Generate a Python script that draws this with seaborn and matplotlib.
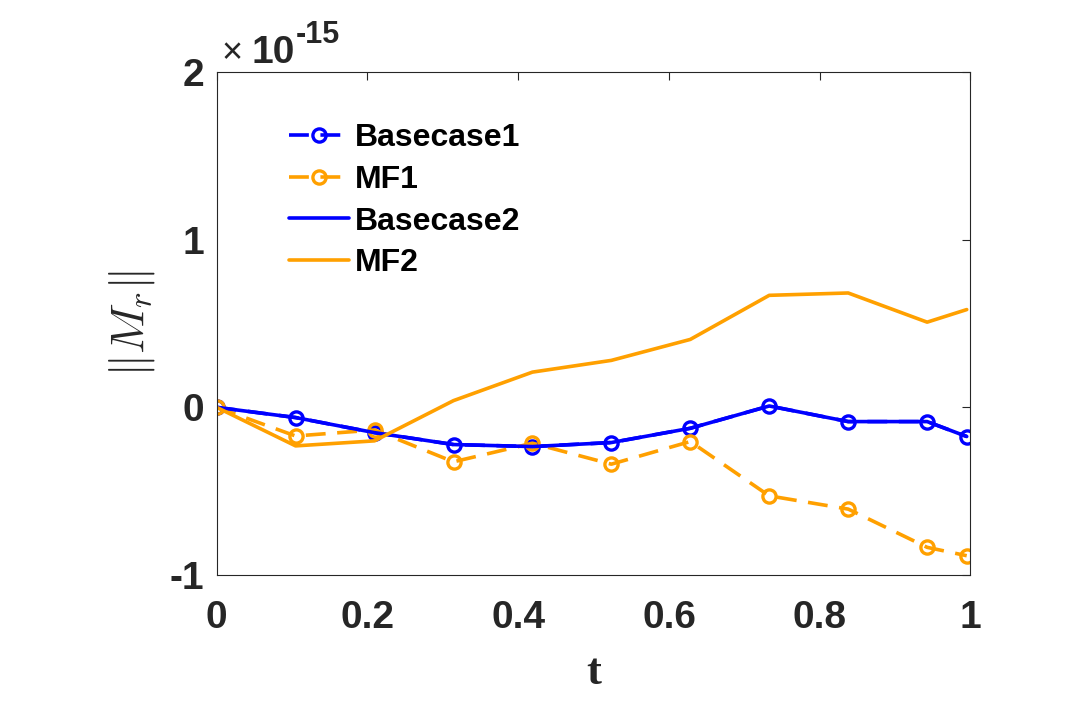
import numpy as np
import pandas as pd
import matplotlib
matplotlib.use("Agg")
import matplotlib.pyplot as plt
import seaborn as sns
from matplotlib.ticker import FixedLocator

# ---- data (values in units of 1e-15) ----
t = [0.0, 0.1047, 0.2094, 0.3142, 0.4189, 0.5236, 0.6283, 0.7330, 0.8378, 0.9425, 0.995]
basecase1 = [0.0, -0.061, -0.151, -0.222, -0.234, -0.210, -0.125, 0.008, -0.085, -0.085, -0.174]
mf1 = [0.0, -0.171, -0.135, -0.325, -0.214, -0.339, -0.204, -0.528, -0.607, -0.835, -0.885]
basecase2 = [0.0, -0.061, -0.151, -0.222, -0.234, -0.210, -0.125, 0.008, -0.085, -0.085, -0.174]
mf2 = [0.0, -0.230, -0.200, 0.040, 0.210, 0.280, 0.405, 0.668, 0.682, 0.508, 0.583]
labels = ["Basecase1", "MF1", "Basecase2", "MF2"]
scale = 1e-15
xticks = [0, 0.2, 0.4, 0.6, 0.8, 1]
xticklabels = ["0", "0.2", "0.4", "0.6", "0.8", "1"]
yticks = [-1, 0, 1, 2]
yticklabels = ["-1", "0", "1", "2"]

sns.set_theme(style="white")
plt.rcParams["font.family"] = ["Liberation Sans", "DejaVu Sans"]
plt.rcParams["mathtext.fontset"] = "cm"

BLUE = "#0000FF"
ORANGE = "#FFA000"
TXT = "#262626"

fig = plt.figure(figsize=(10.8, 7.2), dpi=100)
ax = fig.add_axes([0.2006, 0.2014, 0.698, 0.6986])

series = [basecase1, mf1, basecase2, mf2]
colors = [BLUE, ORANGE, BLUE, ORANGE]
styles = [(0, (5.5, 3.2)), (0, (5.5, 3.2)), "-", "-"]
markers = ["o", "o", None, None]

for lab, vals, c, ls, mk in zip(labels, series, colors, styles, markers):
    df = pd.DataFrame({"t": t, "v": np.array(vals) * scale})
    kw = dict(linewidth=2.6, color=c, linestyle=ls, label=lab)
    if mk:
        kw.update(marker=mk, markersize=9.5, markerfacecolor="none",
                  markeredgecolor=c, markeredgewidth=2.4)
    sns.lineplot(data=df, x="t", y="v", ax=ax, estimator=None, sort=False, **kw)

ax.set_xlim(0, 1)
ax.set_ylim(-1 * scale, 2 * scale)
ax.xaxis.set_major_locator(FixedLocator(xticks))
ax.set_xticklabels(xticklabels)
ax.yaxis.set_major_locator(FixedLocator([v * scale for v in yticks]))
ax.set_yticklabels(yticklabels)

for sp in ax.spines.values():
    sp.set_visible(True)
    sp.set_color(TXT)
    sp.set_linewidth(0.8)

ax.tick_params(axis="both", which="major", direction="in", length=6, width=0.8,
               color=TXT, top=True, right=True, labelsize=28, labelcolor=TXT)
ax.tick_params(axis="x", pad=18)
ax.tick_params(axis="y", pad=9)
for lbl in ax.get_xticklabels() + ax.get_yticklabels():
    lbl.set_fontweight("bold")

ax.set_xlabel("t", fontsize=32, fontweight="bold", family="Liberation Serif", color=TXT, labelpad=12)
ax.set_ylabel(r"$\Vert M_r\Vert$", fontsize=34, color=TXT, labelpad=9)

# exponent label
fig.text(221 / 1080, 1 - 63 / 720, "\u00d7", fontsize=26, color=TXT, ha="left", va="baseline")
fig.text(251 / 1080, 1 - 63 / 720, "10", fontsize=28, fontweight="bold", color=TXT,
         ha="left", va="baseline")
fig.text(296 / 1080, 1 - 43 / 720, "-15", fontsize=22, fontweight="bold", color=TXT,
         ha="left", va="baseline")

leg = ax.legend(loc="upper left", bbox_to_anchor=(289 / 1080, 1 - 123 / 720),
                bbox_transform=fig.transFigure, frameon=False, borderpad=0,
                borderaxespad=0, handlelength=1.88, handletextpad=0.19,
                labelspacing=0.37, prop={"size": 23, "weight": "bold"})
for txt in leg.get_texts():
    txt.set_color("black")

fig.savefig("out.png", dpi=100, facecolor="white")
